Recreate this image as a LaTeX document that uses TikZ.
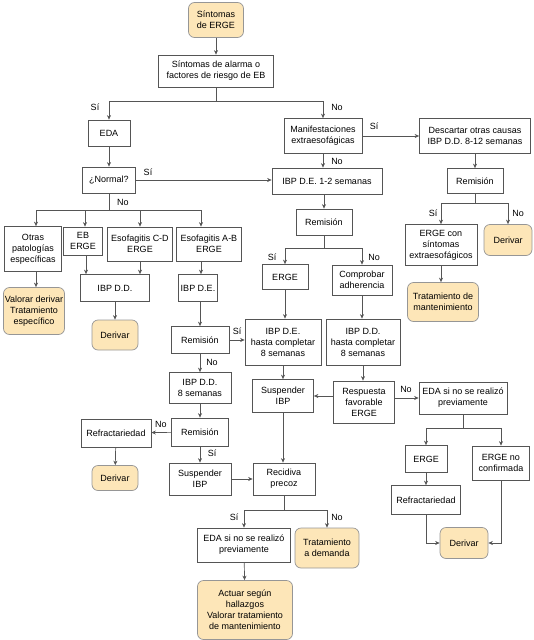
\documentclass[tikz,border=0pt]{standalone}
\usepackage{fontspec}
\setmainfont{Liberation Sans}
\usetikzlibrary{arrows.meta}
\definecolor{peach}{RGB}{253,230,184}
\definecolor{edge}{RGB}{85,85,85}
\definecolor{soft}{RGB}{150,150,150}
\tikzset{
  box/.style={draw=edge, line width=0.7pt, fill=white, align=center, inner sep=1pt,
    font=\fontsize{9}{11}\selectfont},
  term/.style={box, draw=soft, fill=peach, rounded corners=6pt},
  arr/.style={draw=edge, line width=0.7pt, -{Stealth[length=4.5pt,width=4pt]}},
  ln/.style={draw=edge, line width=0.7pt},
  lab/.style={font=\fontsize{9}{11}\selectfont, inner sep=0pt}
}
\newcommand{\bx}[6]{\node[#1, minimum width=#4pt, minimum height=#5pt] (#2) at (#3) {#6};}
\begin{document}
\begin{tikzpicture}[x=1pt,y=-1pt]
\useasboundingbox (0,0) rectangle (533,640);
% nodes
\bx{term}{start}{216,20}{55}{35}{Síntomas\\de ERGE}
\bx{box}{alarma}{216,71}{115}{32}{Síntomas de alarma o\\factores de riesgo de EB}
\bx{box}{eda}{109,133}{42}{26}{EDA}
\bx{box}{manif}{323,136}{78}{35}{Manifestaciones\\extraesofágicas}
\bx{box}{descartar}{475,136}{111}{35}{Descartar otras causas\\IBP D.D. 8-12 semanas}
\bx{box}{normal}{109,180}{53}{26}{¿Normal?}
\bx{box}{ibp12}{327,181}{110}{26}{IBP D.E. 1-2 semanas}
\bx{box}{remC}{324,222}{56}{26}{Remisión}
\bx{box}{ergeC}{285,277}{46}{25}{ERGE}
\bx{box}{compro}{362,280}{60}{30}{Comprobar\\adherencia}
\bx{box}{ibpDEh}{283,342}{76}{46}{IBP D.E.\\hasta completar\\8 semanas}
\bx{box}{ibpDDh}{363,342}{74}{46}{IBP D.D.\\hasta completar\\8 semanas}
\bx{box}{suspC}{283,396}{61}{33}{Suspender\\IBP}
\bx{box}{resp}{364,402}{61}{42}{Respuesta\\favorable\\ERGE}
\bx{box}{edaR}{463,398}{88}{32}{EDA si no se realizó\\previamente}
\bx{box}{ergeR}{426,459}{42}{27}{ERGE}
\bx{box}{ergeNo}{501,463}{57}{34}{ERGE no\\confirmada}
\bx{box}{refrR}{426,500}{69}{29}{Refractariedad}
\bx{term}{derR2}{464,543}{48}{31}{Derivar}
\bx{box}{recid}{284,479}{62}{32}{Recidiva\\precoz}
\bx{box}{edaB}{244,545}{93}{34}{EDA si no se realizó\\previamente}
\bx{term}{tratDem}{327,548}{64}{40}{Tratamiento\\a demanda}
\bx{term}{actuar}{245,610}{95}{59}{Actuar según\\hallazgos\\Valorar tratamiento\\de mantenimiento}
\bx{box}{remR}{475,181}{56}{25}{Remisión}
\bx{box}{ergeCon}{441,245}{72}{41}{ERGE con\\síntomas\\extraesofágicos}
\bx{term}{derR}{508,240}{48}{31}{Derivar}
\bx{term}{tratMant}{443,302}{71}{39}{Tratamiento de\\mantenimiento}
\bx{box}{otras}{33,249}{57}{45}{Otras\\patologías\\específicas}
\bx{box}{eb}{83,241}{39}{28}{EB\\ERGE}
\bx{box}{escd}{140,244}{65}{34}{Esofagitis C-D\\ERGE}
\bx{box}{esab}{209,244}{65}{34}{Esofagitis A-B\\ERGE}
\bx{term}{valorar}{34,311}{61}{47}{Valorar derivar\\Tratamiento\\específico}
\bx{box}{ibpDD}{115,288}{69}{27}{IBP D.D.}
\bx{term}{derL}{115,335}{46}{30}{Derivar}
\bx{box}{ibpDE}{198,288}{39}{27}{IBP D.E.}
\bx{box}{rem1}{200,340}{58}{27}{Remisión}
\bx{box}{ibpDD8}{200,388}{62}{31}{IBP D.D.\\8 semanas}
\bx{box}{rem2}{200,432}{57}{28}{Remisión}
\bx{box}{refrL}{116,433}{70}{28}{Refractariedad}
\bx{term}{derL2}{115,478}{46}{25}{Derivar}
\bx{box}{suspL}{200,479}{62}{32}{Suspender\\IBP}
% split coordinates
\coordinate (s1) at (216,101);
\coordinate (s2) at (109,210);
\coordinate (s3) at (324,248);
\coordinate (s4) at (284,510);
\coordinate (s5) at (475,203);
\coordinate (s6) at (463,428);
\coordinate (colA) at (201,0);
% connectors
\draw[arr] (start) -- (alarma);
\draw[ln] (alarma.south) -- (s1);
\draw[arr] (s1) -| (eda.north);
\draw[arr] (s1) -| (manif.north);
\draw[arr] (manif.east) -- (descartar.west);
\draw[arr] (eda) -- (normal);
\draw[arr] (normal.east) -- (normal.east -| ibp12.west);
\draw[arr] (manif.south) -- (manif.south |- ibp12.north);
\draw[ln] (normal.south) -- (s2);
\draw[arr] (s2) -| ([xshift=3pt]otras.north);
\draw[arr] (s2) -| ([xshift=2pt]eb.north);
\draw[arr] (s2) -| (escd.north);
\draw[arr] (s2) -| (colA |- esab.north);
\draw[arr] ([xshift=3pt]otras.south) -- ([xshift=3pt]otras.south |- valorar.north);
\draw[arr] ([xshift=3pt]eb.south) -- ([xshift=3pt]eb.south |- ibpDD.north);
\draw[arr] (escd.south) -- (escd.south |- ibpDD.north);
\draw[arr] (ibpDD) -- (derL);
\draw[arr] (colA |- esab.south) -- (colA |- ibpDE.north);
\draw[arr] (ibpDE.south -| rem1) -- (rem1.north);
\draw[arr] (rem1.east) -- (rem1.east -| ibpDEh.west);
\draw[arr] (rem1) -- (ibpDD8);
\draw[arr] (ibpDD8) -- (rem2);
\draw[arr] (rem2) -- (refrL);
\draw[arr] (refrL) -- (derL2);
\draw[arr] (rem2) -- (suspL);
\draw[arr] (suspL.east) -- (suspL.east -| recid.west);
\draw[arr] (ibp12.south -| remC) -- (remC);
\draw[ln] (remC.south) -- (s3);
\draw[arr] (s3) -| (ergeC.north);
\draw[arr] (s3) -| (compro.north);
\draw[arr] (ergeC) -- (ergeC |- ibpDEh.north);
\draw[arr] (compro) -- (compro |- ibpDDh.north);
\draw[arr] (ibpDEh) -- (ibpDEh |- suspC.north);
\draw[arr] (ibpDDh) -- (ibpDDh |- resp.north);
\draw[arr] (resp.west |- suspC.east) -- (suspC.east);
\draw[arr] (resp.east |- edaR.west) -- (edaR.west);
\draw[arr] (suspC) -- (suspC |- recid.north);
\draw[ln] (recid.south) -- (s4);
\draw[arr] (s4) -| (edaB.north);
\draw[arr] (s4) -| (tratDem.north);
\draw[arr] (edaB) -- (actuar);
\draw[arr] (descartar) -- (remR);
\draw[ln] (remR.south) -- (s5);
\draw[arr] (s5) -| (ergeCon.north);
\draw[arr] (s5) -| (derR.north);
\draw[arr] (ergeCon) -- (ergeCon |- tratMant.north);
\draw[ln] (edaR.south) -- (s6);
\draw[arr] (s6) -| (ergeR.north);
\draw[arr] (s6) -| (ergeNo.north);
\draw[arr] (ergeR) -- (refrR);
\draw[arr] (refrR.south) |- (derR2.west);
\draw[arr] (ergeNo.south) |- (derR2.east);
% labels
\node[lab] at (95,107) {Sí};
\node[lab] at (337,107) {No};
\node[lab] at (374,126) {Sí};
\node[lab] at (148,172) {Sí};
\node[lab] at (337,161) {No};
\node[lab] at (123,202) {No};
\node[lab] at (237,331) {Sí};
\node[lab] at (212,362) {No};
\node[lab] at (161,424) {No};
\node[lab] at (212,453) {Sí};
\node[lab] at (272,257) {Sí};
\node[lab] at (374,257) {No};
\node[lab] at (406,389) {No};
\node[lab] at (234,517) {Sí};
\node[lab] at (337,517) {No};
\node[lab] at (433,213) {Sí};
\node[lab] at (518,213) {No};
\end{tikzpicture}
\end{document}
